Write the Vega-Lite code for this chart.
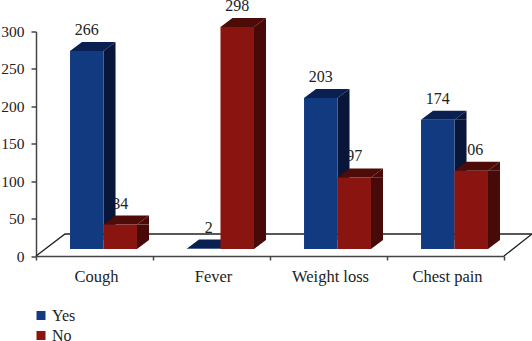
{"$schema":"https://vega.github.io/schema/vega-lite/v6.json","width":468,"height":224.5,"autosize":"none","padding":{"left":36,"top":31.5,"right":28,"bottom":85},"background":"white","config":{"view":{"stroke":null},"font":"Liberation Serif"},"data":{"values":[{"symptom":"Cough","series":"Yes","count":266},{"symptom":"Cough","series":"No","count":34},{"symptom":"Fever","series":"Yes","count":2},{"symptom":"Fever","series":"No","count":298},{"symptom":"Weight loss","series":"Yes","count":203},{"symptom":"Weight loss","series":"No","count":97},{"symptom":"Chest pain","series":"Yes","count":174},{"symptom":"Chest pain","series":"No","count":106}]},"encoding":{"y":{"field":"count","type":"quantitative","scale":{"domain":[0,300],"nice":false},"axis":{"values":[0,50,100,150,200,250,300],"title":null,"grid":false,"domainColor":"#444444","tickColor":"#444444","domainWidth":1.5,"tickWidth":1.5,"tickSize":5,"labelPadding":7,"labelFontSize":15.5,"labelColor":"#222222","labelFont":"Liberation Serif"}}},"layer":[{"data":{"values":[{"symptom":"Cough","count":0}]},"mark":{"type":"point","shape":"M0,0 L29,-22 L496,-22 L468,0","size":4,"filled":false,"stroke":"#222222","strokeWidth":1.3,"opacity":1},"encoding":{"x":{"field":"symptom","type":"nominal","bandPosition":0,"scale":{"domain":["Cough","Fever","Weight loss","Chest pain"],"paddingInner":0,"paddingOuter":0},"sort":["Cough","Fever","Weight loss","Chest pain"],"axis":{"title":null,"labelAngle":0,"tickBand":"extent","grid":false,"domainColor":"#444444","tickColor":"#444444","domainWidth":1.5,"tickWidth":1.5,"tickSize":4,"labelPadding":8,"labelOffset":1.5,"labelFontSize":16.5,"labelColor":"#222222","labelFont":"Liberation Serif"}}}},{"transform":[{"filter":"datum.series==='Yes'&&datum.count>2"}],"mark":{"type":"text","fontSize":16,"font":"Liberation Serif","color":"#222222","yOffset":-27,"baseline":"middle"},"encoding":{"x":{"field":"symptom","type":"nominal","bandPosition":0.434},"text":{"field":"count","type":"quantitative"}}},{"transform":[{"filter":"datum.series==='Yes'&&datum.count<=2"}],"mark":{"type":"text","fontSize":16,"font":"Liberation Serif","color":"#222222","yOffset":-27,"xOffset":5,"baseline":"middle"},"encoding":{"x":{"field":"symptom","type":"nominal","bandPosition":0.434},"text":{"field":"count","type":"quantitative"}}},{"transform":[{"filter":"datum.series==='No'"}],"mark":{"type":"text","fontSize":16,"font":"Liberation Serif","color":"#222222","yOffset":-27,"baseline":"middle"},"encoding":{"x":{"field":"symptom","type":"nominal","bandPosition":0.72},"text":{"field":"count","type":"quantitative"}}},{"transform":[{"filter":"datum.series==='Yes'"}],"encoding":{"x":{"field":"symptom","type":"nominal","bandPosition":0.434}},"layer":[{"mark":{"type":"rule","stroke":"#08163a","strokeWidth":12,"xOffset":22.75,"yOffset":-6,"y2Offset":-16},"encoding":{"y2":{"datum":0}}},{"mark":{"type":"point","shape":"M16.75,0 L28.75,-9 L28.75,0 Z","size":4,"filled":true,"color":"#08163a","strokeWidth":0,"opacity":1,"yOffset":-6}},{"mark":{"type":"point","shape":"M-16.75,0 L16.75,0 L28.75,-9 L-4.75,-9 Z","size":4,"filled":true,"color":"#0a2050","strokeWidth":0,"opacity":1,"yOffset":-6}},{"mark":{"type":"bar","width":33.5,"xOffset":-7.72,"x2Offset":-7.72,"yOffset":-6,"y2Offset":-7},"encoding":{"x":{"field":"symptom","type":"nominal"},"y2":{"datum":0},"color":{"field":"series","type":"nominal","scale":{"domain":["Yes","No"],"range":["#123a80","#8a1410"]},"legend":{"title":null,"orient":"none","legendX":-3,"legendY":276,"symbolType":"square","symbolSize":81,"symbolStrokeWidth":0,"labelFontSize":16,"labelFont":"Liberation Serif","labelColor":"#222222","labelOffset":3,"rowPadding":4}}}}]},{"transform":[{"filter":"datum.series==='No'"}],"encoding":{"x":{"field":"symptom","type":"nominal","bandPosition":0.72}},"layer":[{"mark":{"type":"rule","stroke":"#480a08","strokeWidth":12,"xOffset":22.75,"yOffset":-6,"y2Offset":-16},"encoding":{"y2":{"datum":0}}},{"mark":{"type":"point","shape":"M16.75,0 L28.75,-9 L28.75,0 Z","size":4,"filled":true,"color":"#480a08","strokeWidth":0,"opacity":1,"yOffset":-6}},{"mark":{"type":"point","shape":"M-16.75,0 L16.75,0 L28.75,-9 L-4.75,-9 Z","size":4,"filled":true,"color":"#4d0c08","strokeWidth":0,"opacity":1,"yOffset":-6}},{"mark":{"type":"point","shape":"M16.75,-9 L28.75,-9 L16.75,0 Z","size":4,"filled":true,"color":"#480a08","strokeWidth":0,"opacity":1,"yOffset":-7},"encoding":{"y":{"datum":0}}},{"mark":{"type":"bar","width":33.5,"xOffset":25.74,"x2Offset":25.74,"yOffset":-6,"y2Offset":-7},"encoding":{"x":{"field":"symptom","type":"nominal"},"y2":{"datum":0},"color":{"field":"series","type":"nominal","scale":{"domain":["Yes","No"],"range":["#123a80","#8a1410"]},"legend":{"title":null,"orient":"none","legendX":-3,"legendY":276,"symbolType":"square","symbolSize":81,"symbolStrokeWidth":0,"labelFontSize":16,"labelFont":"Liberation Serif","labelColor":"#222222","labelOffset":3,"rowPadding":4}}}}]}]}
